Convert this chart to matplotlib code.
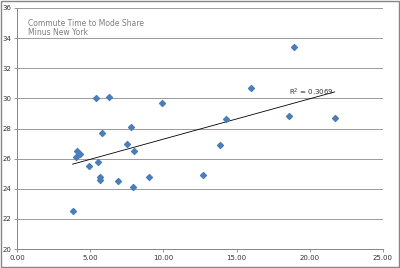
import numpy as np
import matplotlib.pyplot as plt

time_share = [3.8, 4.0, 4.1, 4.3, 4.9, 5.4, 5.5, 5.7, 5.7, 5.8, 6.3, 6.9, 7.5, 7.8, 7.9,
              8.0, 9.0, 9.9, 12.7, 13.9, 14.3, 16.0, 18.6, 18.9, 21.7]
mode_share = [22.5, 26.1, 26.5, 26.3, 25.5, 30.0, 25.8, 24.8, 24.6, 27.7, 30.1, 24.5, 27.0, 28.1, 24.1,
              26.5, 24.8, 29.7, 24.9, 26.9, 28.6, 30.7, 28.8, 33.4, 28.7]
x_ticks = [0, 5, 10, 15, 20, 25]
y_ticks = [20, 22, 24, 26, 28, 30, 32, 34, 36]

fig = plt.figure(figsize=(4, 2.68), dpi=100)
ax = fig.add_axes([17 / 400, 1 - 249 / 268, 366 / 400, 241 / 268])

ax.scatter(time_share, mode_share, marker='D', s=9, color='#4a7ebb', zorder=3)

xs = np.array(time_share)
ys = np.array(mode_share)
slope, intercept = np.polyfit(xs, ys, 1)
line_x = np.array([xs.min(), xs.max()])
ax.plot(line_x, slope * line_x + intercept, color='black', lw=0.6, zorder=2)
ax.text(18.6, 30.2, 'R$^2$ = 0.3069', fontsize=5, color='#333333')

ax.set_xlim(0, 25)
ax.set_ylim(20, 36)
ax.set_xticks(x_ticks)
ax.set_yticks(y_ticks)
ax.set_xticklabels([f'{v:.2f}' for v in x_ticks])
ax.set_yticklabels([str(v) for v in y_ticks])
ax.tick_params(labelsize=5, length=2, width=0.6, color='#868686', labelcolor='#333333', pad=2)
ax.grid(axis='y', color='#9a9a9a', lw=0.7)
ax.set_axisbelow(True)
for side in ['top', 'right']:
    ax.spines[side].set_visible(False)
for side in ['left', 'bottom']:
    ax.spines[side].set_color('#868686')
    ax.spines[side].set_linewidth(0.7)

ax.text(0.03, 0.955, 'Commute Time to Mode Share\nMinus New York', transform=ax.transAxes,
        fontsize=5.5, color='#7f7f7f', va='top', linespacing=1.0)

fig.patches.append(plt.Rectangle((0.002, 0.003), 0.995, 0.993, transform=fig.transFigure,
                                 fill=False, edgecolor='#868686', lw=1))

fig.savefig('out.png', dpi=100)
